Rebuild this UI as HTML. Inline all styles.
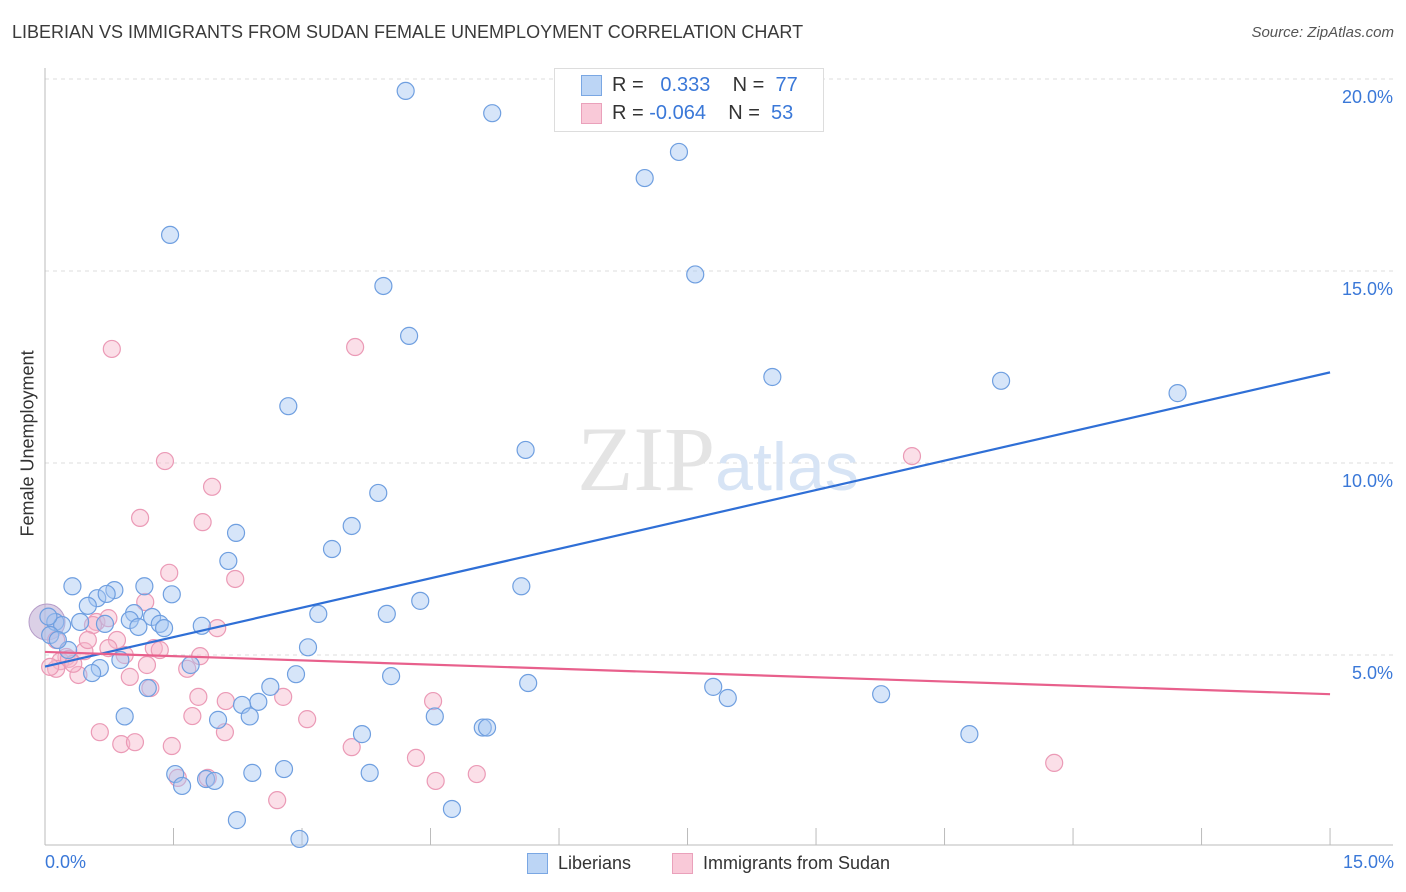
<!DOCTYPE html>
<html><head><meta charset="utf-8"><style>
body{margin:0;background:#fff;font-family:"Liberation Sans",sans-serif;}
#wrap{position:relative;width:1406px;height:892px;overflow:hidden;}
.t{position:absolute;white-space:nowrap;}
</style></head><body>
<div id="wrap">
<div class="t" style="left:12px;top:22px;font-size:18px;color:#3a3a3a;">LIBERIAN VS IMMIGRANTS FROM SUDAN FEMALE UNEMPLOYMENT CORRELATION CHART</div>
<div class="t" style="right:12px;top:24px;font-size:15px;color:#555;font-style:italic;">Source: ZipAtlas.com</div>
<div class="t" style="left:-52px;top:446px;font-size:18px;color:#333;transform:rotate(-90deg);width:160px;text-align:center;">Female Unemployment</div>
<svg id="svg" width="1406" height="892" style="position:absolute;left:0;top:0"></svg>
<div style="position:absolute;left:554px;top:68px;width:268px;height:62px;border:1px solid #ddd;background:#fff;"></div>
<div style="position:absolute;left:581px;top:75px;width:19px;height:19px;background:#bcd5f5;border:1px solid #7aa7e3;"></div>
<div style="position:absolute;left:581px;top:103px;width:19px;height:19px;background:#f9c9d8;border:1px solid #eaa1bb;"></div>
<div class="t" style="left:612px;top:74px;font-size:20px;color:#333;">R = &nbsp;&nbsp;<span style="color:#3a78d8">0.333</span>&nbsp;&nbsp;&nbsp; N = &nbsp;<span style="color:#3a78d8">77</span></div>
<div class="t" style="left:612px;top:102px;font-size:20px;color:#333;">R = <span style="color:#3a78d8">-0.064</span>&nbsp;&nbsp;&nbsp; N = &nbsp;<span style="color:#3a78d8">53</span></div>
<div class="t" style="left:45px;top:852px;font-size:18px;color:#3a78d8;">0.0%</div>
<div class="t" style="right:12px;top:852px;font-size:18px;color:#3a78d8;">15.0%</div>
<div style="position:absolute;left:527px;top:853px;width:19px;height:19px;background:#bcd5f5;border:1px solid #7aa7e3;"></div>
<div class="t" style="left:558px;top:853px;font-size:18px;color:#333;">Liberians</div>
<div style="position:absolute;left:672px;top:853px;width:19px;height:19px;background:#f9c9d8;border:1px solid #eaa1bb;"></div>
<div class="t" style="left:703px;top:853px;font-size:18px;color:#333;">Immigrants from Sudan</div>
</div>
<script>
const yTicks=[5,10,15,20];
const yTickLabels=["5.0%","10.0%","15.0%","20.0%"];
const blueX=[4.21,5.22,7.4,7.0,1.46,7.59,3.95,4.25,8.49,11.16,13.22,2.84,5.61,3.89,2.23,3.58,2.14,3.35,1.48,0.32,5.56,4.38,1.16,0.81,0.61,0.5,0.72,1.04,3.19,3.99,0.12,0.2,0.41,0.7,0.99,1.25,1.34,1.39,1.83,1.09,3.07,0.27,0.88,1.7,0.64,0.55,2.93,4.04,5.64,7.8,7.97,9.76,2.63,2.49,2.3,1.2,0.93,2.02,2.39,4.55,5.11,5.16,3.7,10.79,1.52,1.6,1.88,1.98,2.42,2.79,3.79,4.75,2.24,2.97,0.04,0.06,0.15];
const blueY=[19.69,19.11,18.1,17.42,15.94,14.91,14.61,13.31,12.24,12.14,11.82,11.48,10.34,9.22,8.18,8.36,7.45,7.76,6.58,6.79,6.79,6.41,6.79,6.69,6.48,6.28,6.59,6.09,6.07,6.07,5.86,5.78,5.86,5.81,5.91,5.99,5.81,5.7,5.76,5.73,5.2,5.13,4.87,4.74,4.66,4.53,4.5,4.45,4.27,4.17,3.88,3.98,4.17,3.78,3.7,4.14,3.4,3.31,3.4,3.4,3.11,3.11,2.94,2.94,1.9,1.59,1.77,1.72,1.93,2.03,1.93,0.99,0.7,0.21,6.0,5.52,5.39];
const pinkX=[0.78,3.62,10.12,1.4,1.95,1.11,1.84,2.22,1.45,1.17,0.6,0.56,0.13,0.84,1.27,1.81,2.01,0.74,0.93,0.46,0.25,0.18,0.13,0.39,1.19,1.66,0.99,1.23,1.79,2.11,2.78,4.53,1.72,3.06,2.1,0.64,0.89,1.05,1.48,3.58,4.33,1.55,1.9,5.04,4.56,11.78,2.71,0.28,0.5,0.33,0.74,1.34,0.06];
const pinkY=[12.97,13.02,10.18,10.05,9.38,8.57,8.46,6.98,7.14,6.38,5.86,5.78,5.39,5.39,5.18,4.97,5.7,5.18,5.0,5.1,4.95,4.84,4.64,4.48,4.74,4.64,4.43,4.14,3.91,3.8,3.91,3.8,3.41,3.33,2.99,2.99,2.68,2.73,2.63,2.6,2.32,1.8,1.8,1.9,1.72,2.19,1.22,4.9,5.39,4.77,5.96,5.13,4.69];
const blueTrend=[4.7,12.36];
const pinkTrend=[5.08,3.98];
const NS="http://www.w3.org/2000/svg";
const svg=document.getElementById('svg');
const X=v=>45+v*85.67, Y=v=>847-v*38.4;
function el(t,a){const e=document.createElementNS(NS,t);for(const k in a)e.setAttribute(k,a[k]);svg.appendChild(e);return e;}
yTicks.forEach((v,i)=>{
 const g=el('line',{x1:45,x2:1393,y1:Y(v),y2:Y(v),stroke:'#ddd','stroke-dasharray':'4,4'});
 
 
 const t=el('text',{x:1393,y:Y(v)+24,'text-anchor':'end','font-size':18,fill:'#3a78d8','font-family':'Liberation Sans, sans-serif'});
 t.textContent=yTickLabels[i];
 
 
});
const ax=el('line',{x1:45,x2:1393,y1:845,y2:845,stroke:'#bbb'});


const ay=el('line',{x1:45,x2:45,y1:68,y2:845,stroke:'#bbb'});


for(let i=0;i<=10;i++){const tk=el('line',{x1:X(i*1.5),x2:X(i*1.5),y1:845,y2:828,stroke:'#bbb'});
 
 }
const wm=el('text',{x:718,y:490,'text-anchor':'middle','font-size':92,'font-family':'Liberation Serif, serif',fill:'#e4e4e4'});
wm.innerHTML='ZIP<tspan fill="#d7e4f5" font-family="Liberation Sans, sans-serif" font-size="68">atlas</tspan>';


const big=el('circle',{cx:47,cy:622,r:18,fill:'rgba(190,170,210,0.55)',stroke:'#b59cc8'});


pinkX.forEach((v,i)=>{const c=el('circle',{cx:X(v),cy:Y(pinkY[i]),r:8.5,fill:'rgba(246,185,205,0.45)',stroke:'#eb9ab6','stroke-width':1.2});
 
 });
blueX.forEach((v,i)=>{const c=el('circle',{cx:X(v),cy:Y(blueY[i]),r:8.5,fill:'rgba(165,198,242,0.45)',stroke:'#6f9fe0','stroke-width':1.2});
 
 });
const bl=el('line',{x1:X(0),x2:X(15),y1:Y(blueTrend[0]),y2:Y(blueTrend[1]),stroke:'#2f6fd6','stroke-width':2.2});


const pl=el('line',{x1:X(0),x2:X(15),y1:Y(pinkTrend[0]),y2:Y(pinkTrend[1]),stroke:'#e8608c','stroke-width':2.2});


</script>
</body></html>
